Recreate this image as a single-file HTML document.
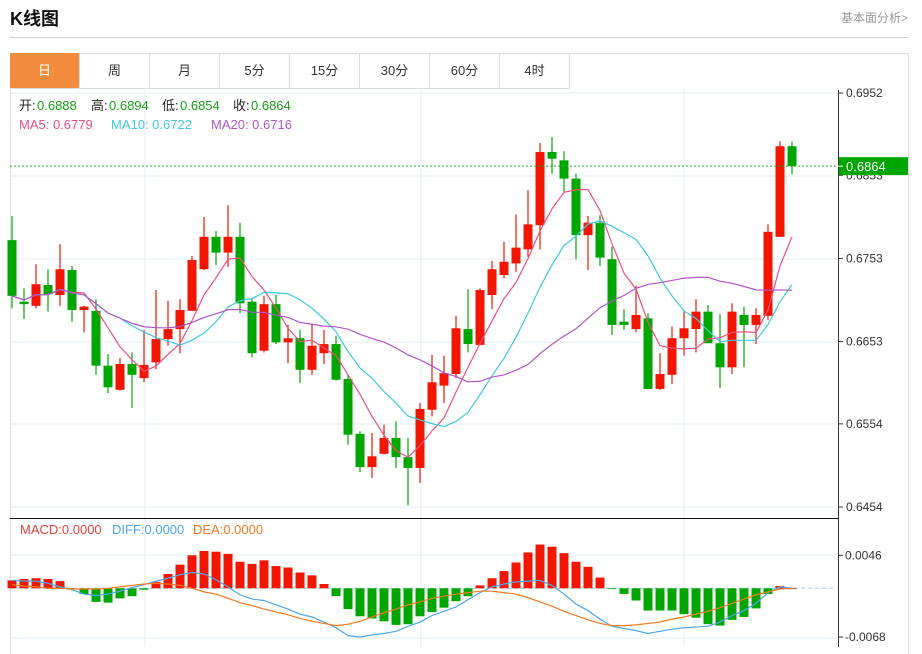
<!DOCTYPE html>
<html><head><meta charset="utf-8">
<style>
body{margin:0;width:922px;height:647px;overflow:hidden;background:#fff;font-family:"Liberation Sans","Noto Sans CJK SC",sans-serif;position:relative}
.title{position:absolute;left:10px;top:5px;font-size:18px;font-weight:bold;color:#111}
.more{position:absolute;right:14px;top:9px;font-size:12px;color:#999}
.hr{position:absolute;left:10px;top:37px;width:898px;height:1px;background:#ccc}
.box{position:absolute;left:10px;top:53px;width:897px;height:600px;border:1px solid #ddd;border-bottom:none}
.tabs{position:absolute;left:10px;top:53px;height:36px;display:flex}
.tab{width:69px;height:35px;border-right:1px solid #ddd;border-bottom:1px solid #ddd;text-align:center;line-height:36px;font-size:13px;color:#333}
.tab.on{background:#f28c3c;color:#fff;border-radius:2px}
svg{position:absolute;left:0;top:0}
</style></head><body>
<div class="title">K线图</div>
<div class="more">基本面分析&gt;</div>
<div class="hr"></div>
<div class="box"></div>
<div class="tabs">
<div class="tab on">日</div>
<div class="tab">周</div>
<div class="tab">月</div>
<div class="tab">5分</div>
<div class="tab">15分</div>
<div class="tab">30分</div>
<div class="tab">60分</div>
<div class="tab">4时</div>
</div>
<svg id="chart" width="922" height="647"></svg>
<script>
const opens=[.6775,.6701,.6696,.6721,.6709,.6739,.6691,.6690,.6624,.6595,.6626,.6609,.6628,.6656,.6668,.6690,.6740,.6779,.6760,.6779,.6701,.6642,.6698,.6652,.6657,.6619,.6639,.6650,.6608,.6542,.6502,.6518,.6537,.6514,.6501,.6571,.6600,.6614,.6668,.6649,.6709,.6733,.6747,.6764,.6793,.6881,.6871,.6849,.6781,.6796,.6752,.6677,.6668,.6681,.6596,.6613,.6657,.6668,.6689,.6651,.6622,.6685,.6673,.6684,.6779,.6888];
const highs=[.6804,.6717,.6746,.6740,.6770,.6744,.6696,.6704,.6638,.6633,.6640,.6667,.6715,.6702,.6704,.6756,.6803,.6786,.6817,.6796,.6704,.6708,.6709,.6673,.6667,.6674,.6667,.6660,.6613,.6545,.6543,.6553,.6557,.6537,.6579,.6637,.6636,.6684,.6716,.6717,.6750,.6773,.6806,.6835,.6892,.6899,.6882,.6855,.6804,.6805,.6767,.6692,.6720,.6687,.6639,.6671,.6690,.6704,.6697,.6686,.6699,.6695,.6693,.6794,.6894,.6894];
const lows=[.6693,.6680,.6693,.6689,.6696,.6677,.6664,.6613,.6591,.6594,.6573,.6604,.6620,.6648,.6639,.6690,.6739,.6745,.6743,.6687,.6634,.6640,.6650,.6627,.6603,.6613,.6626,.6606,.6529,.6496,.6489,.6517,.6501,.6456,.6483,.6563,.6579,.6609,.6640,.6649,.6692,.6729,.6737,.6755,.6764,.6855,.6833,.6752,.6739,.6744,.6661,.6667,.6664,.6596,.6595,.6602,.6636,.6640,.6651,.6597,.6614,.6622,.6650,.6679,.6779,.6854];
const closes=[.6708,.6698,.6722,.6710,.6740,.6691,.6695,.6624,.6598,.6626,.6613,.6625,.6656,.6668,.6691,.6751,.6779,.6760,.6779,.6699,.6639,.6698,.6652,.6657,.6619,.6648,.6650,.6607,.6541,.6502,.6515,.6537,.6514,.6501,.6572,.6604,.6615,.6669,.6650,.6715,.6740,.6749,.6766,.6794,.6881,.6873,.6849,.6781,.6796,.6754,.6673,.6673,.6685,.6596,.6614,.6657,.6669,.6689,.6651,.6622,.6689,.6673,.6685,.6785,.6888,.6864];
const macdBars=[.0011,.0013,.0014,.0013,.0010,-.0001,-.0008,-.0019,-.0020,-.0014,-.0011,-.0002,.0009,.0020,.0033,.0046,.0052,.0051,.0048,.0037,.0034,.0039,.0031,.0029,.0022,.0018,.0006,-.0011,-.0029,-.0039,-.0042,-.0046,-.0051,-.0050,-.0039,-.0033,-.0027,-.0018,-.0011,.0004,.0014,.0024,.0036,.0050,.0061,.0058,.0049,.0037,.0030,.0015,-.0001,-.0008,-.0017,-.0031,-.0031,-.0031,-.0036,-.0041,-.0050,-.0052,-.0044,-.0040,-.0028,-.0008,.0003,.0000];
const diffLine=[.0011,.0010,.0010,.0007,.0002,-.0002,-.0008,-.0010,-.0008,-.0004,.0001,.0005,.0010,.0014,.0019,.0022,.0020,.0012,.0002,-.0009,-.0015,-.0017,-.0023,-.0029,-.0036,-.0040,-.0047,-.0055,-.0066,-.0068,-.0065,-.0063,-.0060,-.0053,-.0047,-.0038,-.0032,-.0026,-.0016,-.0006,.0002,.0006,.0009,.0010,.0011,.0004,-.0008,-.0022,-.0031,-.0043,-.0053,-.0056,-.0059,-.0063,-.0060,-.0057,-.0055,-.0054,-.0053,-.0047,-.0038,-.0031,-.0021,-.0006,.0002,.0000];
const deaLine=[.0005,.0003,.0002,0,0,-.0001,-.0001,-.0001,0,.0002,.0004,.0006,.0007,.0006,.0004,0,-.0005,-.0008,-.0014,-.0020,-.0024,-.0029,-.0033,-.0037,-.0042,-.0046,-.0049,-.0052,-.0050,-.0046,-.0040,-.0034,-.0029,-.0023,-.0019,-.0014,-.0011,-.0008,-.0006,-.0004,-.0004,-.0006,-.0008,-.0013,-.0019,-.0025,-.0032,-.0038,-.0044,-.0049,-.0052,-.0052,-.0051,-.0049,-.0047,-.0043,-.0040,-.0036,-.0032,-.0027,-.0021,-.0015,-.0009,-.0005,-.0001,0];
const priceTicks=["0.6952","0.6853","0.6753","0.6653","0.6554","0.6454"];
const macdTicks=["0.0046","-0.0068"];
const maLegend=["0.6779","0.6722","0.6716"];

const NS="http://www.w3.org/2000/svg";
const svg=document.getElementById('chart');
function el(tag,attrs,parent){const e=document.createElementNS(NS,tag);for(const k in attrs)e.setAttribute(k,attrs[k]);(parent||svg).appendChild(e);return e;}
const xOf=i=>12+12*i;
const yP=p=>93+(0.6952-p)*(414/0.0498);
const yM=v=>588.3-v*(33/0.0046);

[93,176,259,342,424,507,555,638].forEach(y=>{const g=el('line',{x1:10,x2:836,y1:y,y2:y,stroke:'#e3ecf4'});

});
[145,421,684].forEach(x=>{const g=el('line',{x1:x,x2:x,y1:90,y2:647,stroke:'#e3ecf4'});

});
const sep=el('line',{x1:10,x2:838,y1:518.5,y2:518.5,stroke:'#111'});


const ax=el('line',{x1:838.5,x2:838.5,y1:90,y2:647,stroke:'#333'});



priceTicks.forEach(t=>{const y=yP(parseFloat(t));
el('line',{x1:838,x2:843,y1:y,y2:y,stroke:'#333'});
const tx=el('text',{x:846,y:y+4,'font-size':12,fill:'#333'});tx.textContent=t;

});
macdTicks.forEach(t=>{const y=yM(parseFloat(t));
el('line',{x1:838,x2:843,y1:y,y2:y,stroke:'#333'});
const tx=el('text',{x:845,y:y+4,'font-size':12,fill:'#333'});tx.textContent=t;

});

closes.forEach((c,i)=>{const o=opens[i],up=c>=o,col=up?'#f21600':'#00a600',x=xOf(i);
const g=el('g',{});


el('line',{x1:x,x2:x,y1:yP(highs[i]),y2:yP(lows[i]),stroke:col,'stroke-width':1.2},g);
const top=yP(Math.max(o,c)),h=Math.max(1.5,Math.abs(yP(o)-yP(c)));
el('rect',{x:x-4.5,y:top,width:9,height:h,fill:col},g);});

function ma(n){return closes.map((_,i)=>{const s=Math.max(0,i-n+1);let t=0;for(let k=s;k<=i;k++)t+=closes[k];return t/(i-s+1);});}
[[5,'#ee4f80','ma5-line'],[10,'#3ccbdf','ma10-line'],[20,'#b355c8','ma20-line']].forEach(([n,col,name])=>{
const p=el('polyline',{points:ma(n).map((v,i)=>xOf(i)+','+yP(v)).join(' '),fill:'none',stroke:col,'stroke-width':1.2});

});

const lp=closes[closes.length-1],ly=yP(lp);
const dl=el('line',{x1:10,x2:836,y1:ly,y2:ly,stroke:'#22aa22','stroke-dasharray':'2,2'});


const tag=el('rect',{x:839,y:ly-9,width:69,height:18,fill:'#00a600'});


el('line',{x1:838,x2:843,y1:ly,y2:ly,stroke:'#fff'});
const tt=el('text',{x:846,y:ly+5,'font-size':13,fill:'#fff'});tt.textContent=lp.toFixed(4);



const zl=el('line',{x1:10,x2:836,y1:yM(0),y2:yM(0),stroke:'#9cd0ea','stroke-dasharray':'4,3'});


macdBars.forEach((v,i)=>{const y0=yM(0),y1=yM(v);
const r=el('rect',{x:xOf(i)-4.5,y:Math.min(y0,y1),width:9,height:Math.max(0.8,Math.abs(y1-y0)),fill:v>=0?'#f21600':'#00a600'});

});
[[diffLine,'#4da6f0','diff-line'],[deaLine,'#f47a20','dea-line']].forEach(([arr,col,name])=>{
const p=el('polyline',{points:arr.map((v,i)=>xOf(i)+','+yM(v)).join(' '),fill:'none',stroke:col,'stroke-width':1.2});

});

function txt(x,y,s,col,name){const t=el('text',{x:x,y:y,'font-size':13,fill:col});t.textContent=s;

return t;}
const n=closes.length-1;
txt(19,110,'开:','#222','legend-open-label');txt(37,110,opens[n].toFixed(4),'#1aa01a','legend-open-value');
txt(91,110,'高:','#222','legend-high-label');txt(109,110,highs[n].toFixed(4),'#1aa01a','legend-high-value');
txt(162,110,'低:','#222','legend-low-label');txt(180,110,lows[n].toFixed(4),'#1aa01a','legend-low-value');
txt(233,110,'收:','#222','legend-close-label');txt(251,110,closes[n].toFixed(4),'#1aa01a','legend-close-value');
txt(19,129,'MA5: '+maLegend[0],'#ee4f80','legend-ma5');
txt(111,129,'MA10: '+maLegend[1],'#3ccbdf','legend-ma10');
txt(211,129,'MA20: '+maLegend[2],'#b355c8','legend-ma20');
txt(20,534,'MACD:0.0000','#e84040','legend-macd');
txt(112,534,'DIFF:0.0000','#4da6f0','legend-diff');
txt(193,534,'DEA:0.0000','#f47a20','legend-dea');
</script>
</body></html>
